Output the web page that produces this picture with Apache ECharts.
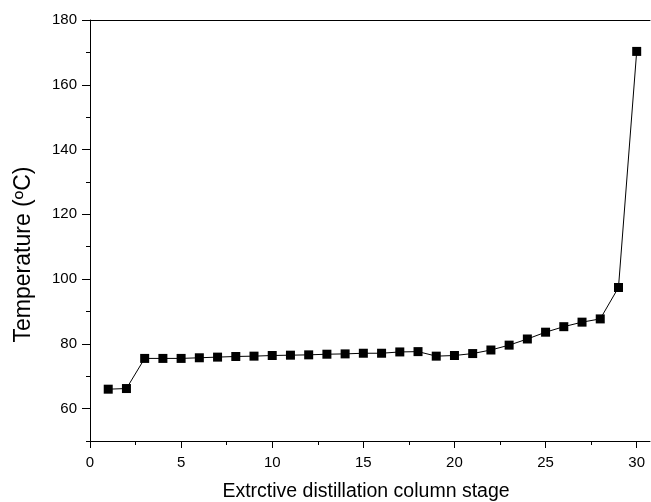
<!DOCTYPE html>
<html>
<head>
<meta charset="utf-8">
<script src="https://cdn.jsdelivr.net/npm/echarts@6/dist/echarts.min.js"></script>
<style>html,body{margin:0;padding:0;background:#fff;}#c{width:651px;height:502px;}</style>
</head>
<body>
<div id="c"></div>
<script>
const stages = [1,2,3,4,5,6,7,8,9,10,11,12,13,14,15,16,17,18,19,20,21,22,23,24,25,26,27,28,29,30];
const temps = [66.0,66.2,75.5,75.5,75.5,75.7,75.9,76.1,76.2,76.4,76.5,76.6,76.8,76.9,77.1,77.1,77.5,77.6,76.2,76.4,77.0,78.1,79.6,81.5,83.6,85.3,86.7,87.7,97.4,170.3];
const xMajorTicks = [0,5,10,15,20,25,30];
const xMinorTicks = [2.5,7.5,12.5,17.5,22.5,27.5];
const yMajorTicks = [60,80,100,120,140,160,180];
const yMinorTicks = [50,70,90,110,130,150,170];
const xTitle = 'Extrctive distillation column stage';
const yTitle = 'Temperature (ºC)';

const font = 'Liberation Sans, Arial, Helvetica, sans-serif';
const chart = echarts.init(document.getElementById('c'));
const black = '#000';
const xMin = 0, xMax = 30.73, yMin = 50, yMax = 180;

chart.setOption({
  animation: false,
  backgroundColor: '#fff',
  grid: { left: 90, right: 1, top: 20, bottom: 61, containLabel: false, outerBoundsMode: 'none' },
  xAxis: [
    {
      type: 'value', min: xMin, max: xMax, position: 'bottom',
      name: xTitle, nameLocation: 'middle', nameGap: 41,
      nameTextStyle: { fontFamily: font, fontSize: 19.5, color: black, padding: [0, 8, 0, 0] },
      axisLine: { show: true, lineStyle: { color: black, width: 1 } },
      axisTick: { show: true, customValues: xMajorTicks, length: 7, lineStyle: { color: black } },
      axisLabel: { show: true, customValues: xMajorTicks, margin: 14, fontFamily: font, fontSize: 15, color: black },
      splitLine: { show: false }
    },
    {
      type: 'value', min: xMin, max: xMax, position: 'bottom',
      axisLine: { show: false },
      axisTick: { show: true, customValues: xMinorTicks, length: 4, lineStyle: { color: black } },
      axisLabel: { show: false },
      splitLine: { show: false }
    },
    {
      type: 'value', min: xMin, max: xMax, position: 'top',
      axisLine: { show: true, lineStyle: { color: black, width: 1 } },
      axisTick: { show: false }, axisLabel: { show: false }, splitLine: { show: false }
    }
  ],
  yAxis: [
    {
      type: 'value', min: yMin, max: yMax, position: 'left',
      name: yTitle, nameLocation: 'middle', nameGap: 55,
      nameTextStyle: { fontFamily: font, fontSize: 23, color: black, padding: [0, 48, 0, 0] },
      axisLine: { show: true, lineStyle: { color: black, width: 1 } },
      axisTick: { show: true, customValues: yMajorTicks, length: 8, lineStyle: { color: black } },
      axisLabel: { show: true, customValues: yMajorTicks, margin: 13, fontFamily: font, fontSize: 15, color: black },
      splitLine: { show: false }
    },
    {
      type: 'value', min: yMin, max: yMax, position: 'left',
      axisLine: { show: false },
      axisTick: { show: true, customValues: yMinorTicks, length: 4, lineStyle: { color: black } },
      axisLabel: { show: false },
      splitLine: { show: false }
    }
  ],
  series: [{
    type: 'line',
    xAxisIndex: 0, yAxisIndex: 0,
    data: stages.map((s, i) => [s, temps[i]]),
    symbol: 'rect', symbolSize: 9,
    itemStyle: { color: black },
    lineStyle: { color: black, width: 1 },
    showAllSymbol: true
  }]
});
</script>
</body>
</html>
